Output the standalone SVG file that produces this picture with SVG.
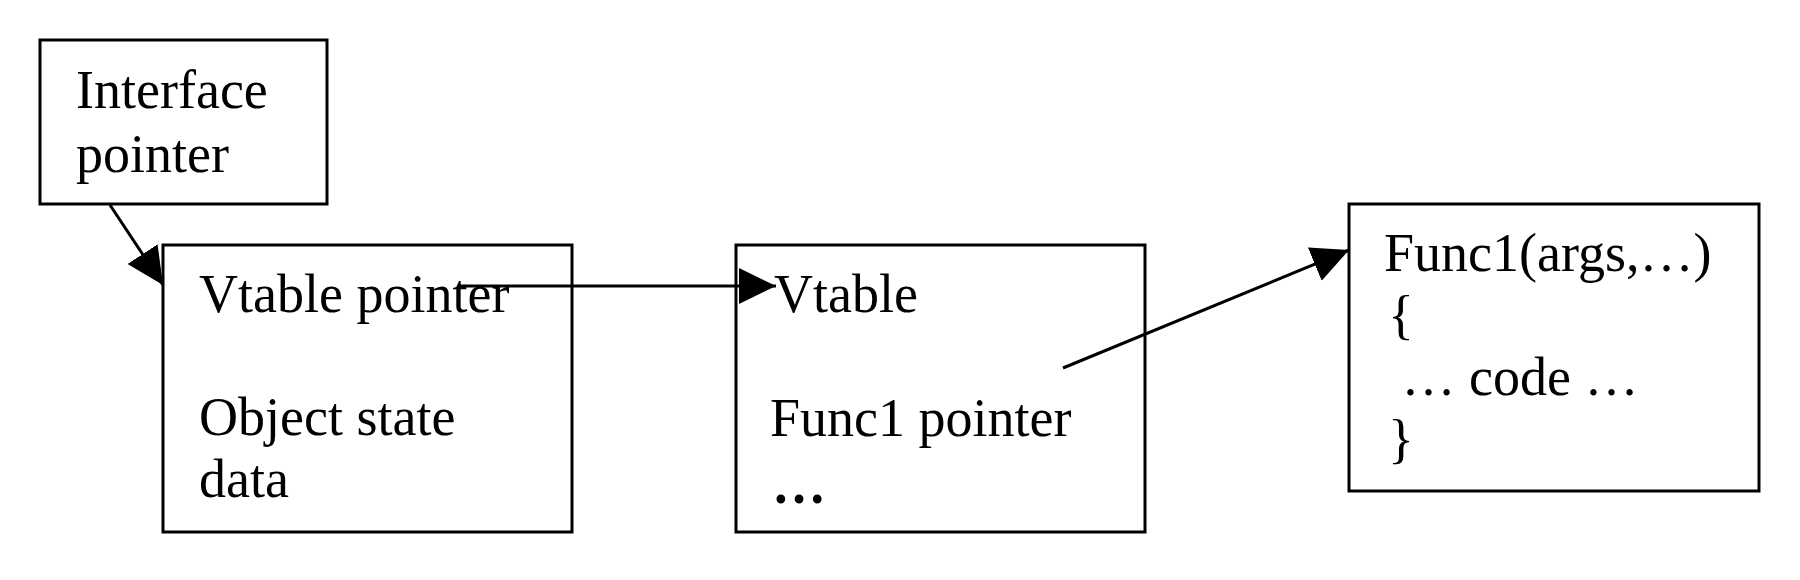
<svg xmlns="http://www.w3.org/2000/svg" width="1800" height="580" viewBox="0 0 1800 580">
<style>
.box{fill:#fff;stroke:#000;stroke-width:3}
.t{font-family:"Liberation Serif","Times New Roman",serif;font-size:54px;fill:#000}
.c{stroke:#000;stroke-width:3;fill:none;marker-end:url(#ah)}
</style>
<defs>
<marker id="ah" markerUnits="userSpaceOnUse" markerWidth="40" markerHeight="38" refX="37" refY="18" orient="auto">
<path d="M0,0 L37,18 L0,36 z" fill="#000"/>
</marker>
</defs>
<rect width="1800" height="580" fill="#fff"/>
<g id="interface">
<rect class="box" x="40" y="40" width="287" height="164"/>
<text class="t" x="76" y="108">Interface</text>
<text class="t" x="76" y="172">pointer</text>
</g>
<g id="object">
<rect class="box" x="163" y="245" width="409" height="287"/>
<text class="t" x="199" y="312">Vtable pointer</text>
<text class="t" x="199" y="435">Object state</text>
<text class="t" x="199" y="497">data</text>
</g>
<g id="vtable">
<rect class="box" x="736" y="245" width="409" height="287"/>
<text class="t" x="774" y="312">Vtable</text>
<text class="t" x="770" y="436">Func1 pointer</text>
<text class="t" x="772" y="503" font-weight="bold">…</text>
</g>
<g id="func">
<rect class="box" x="1349" y="204" width="410" height="287"/>
<text class="t" x="1384" y="271">Func1(args,…)</text>
<text class="t" x="1388" y="333">{</text>
<text class="t" x="1388" y="395" xml:space="preserve"> … code …</text>
<text class="t" x="1388" y="457">}</text>
</g>
<g id="connectors">
<path class="c" d="M110,205 L163,285"/>
<path class="c" d="M459,286 L776,286"/>
<path class="c" d="M1063,368 L1349,250"/>
</g>
</svg>
